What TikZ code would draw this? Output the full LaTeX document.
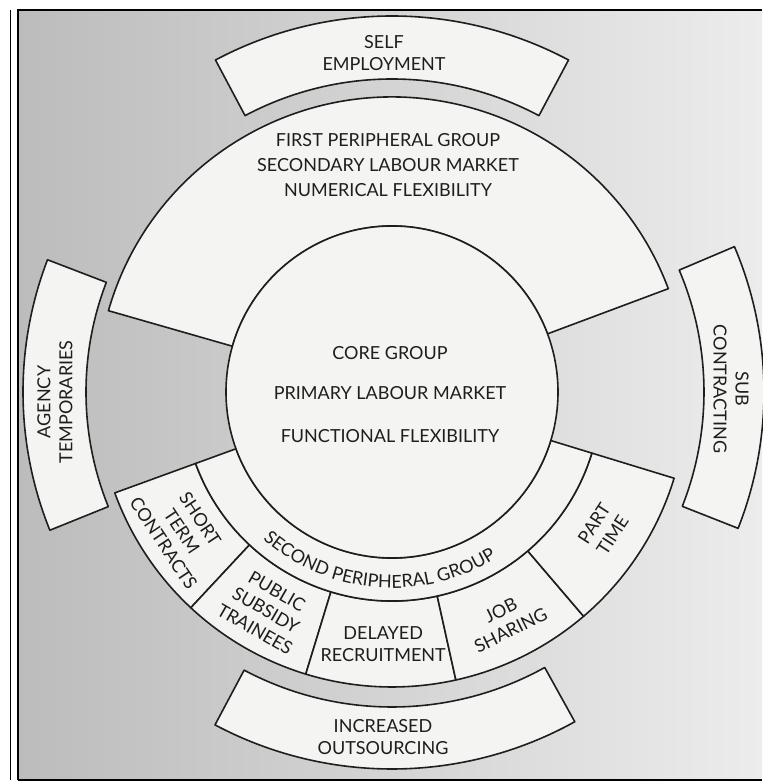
\documentclass[tikz,border=0pt]{standalone}
\usepackage{fontspec}
\setmainfont{Lato}
\usetikzlibrary{decorations.text}
\definecolor{bgL}{RGB}{188,188,188}
\definecolor{bgR}{RGB}{236,236,236}
\definecolor{boxfill}{RGB}{244,244,242}
\definecolor{ink}{RGB}{30,30,30}
\newcommand\annsec[4]{(#1:#3) arc[start angle=#1,end angle=#2,radius=#3] -- (#2:#4) arc[start angle=#2,end angle=#1,radius=#4] -- cycle}
\tikzset{
  shapebox/.style={draw=ink, line width=1.6pt, fill=boxfill, line join=round},
  lbl/.style={text=ink, font=\fontsize{18}{22}\selectfont, align=center, inner sep=0pt},
  frameline/.style={draw=black, line width=1.4pt}
}
\begin{document}
\begin{tikzpicture}[x=1pt,y=1pt]
\useasboundingbox (-392,-391) rectangle (370,392);
\fill[white] (-392,-391) rectangle (370,392);
% background
\shade[left color=bgL, right color=bgR] (-374,-388) rectangle (370,382);
\draw[frameline] (-374,-388) -- (-374,382) -- (370,382);
\draw[frameline] (-374,-388) -- (370,-388);
\draw[black, line width=0.8pt] (-382,-388) -- (-382,382);
% outer boxes
\path[shapebox] \annsec{62}{118}{313}{376};
\path[shapebox] \annsec{159}{202}{306}{369};
\path[shapebox] \annsec{-21.5}{23}{312}{372};
\path[shapebox] \annsec{242}{299}{315}{377};
% first peripheral group
\path[shapebox] \annsec{20.5}{164}{166}{295};
% bottom ring segments
\path[shapebox] \annsec{200}{227}{209}{295};
\path[shapebox] \annsec{227}{253}{209}{295};
\path[shapebox] \annsec{253}{282.5}{209}{295};
\path[shapebox] \annsec{282.5}{310.5}{209}{295};
\path[shapebox] \annsec{310.5}{343}{209}{295};
% second peripheral band
\path[shapebox] \annsec{200}{343}{166}{209};
% core
\draw[shapebox] (0,0) circle[radius=166];
% texts
\node[lbl] (self) at (-8,339) {SELF\\EMPLOYMENT};
\node[lbl, rotate=90] (agency) at (-337,-10) {AGENCY\\TEMPORARIES};
\node[lbl, rotate=-90] (sub) at (339,3) {SUB\\CONTRACTING};
\node[lbl] (outs) at (-9,-345) {INCREASED\\OUTSOURCING};
\node[lbl, font=\fontsize{18}{25}\selectfont] (first) at (-4,227) {FIRST PERIPHERAL GROUP\\SECONDARY LABOUR MARKET\\NUMERICAL FLEXIBILITY};
\node[lbl] (core1) at (-2,39) {CORE GROUP};
\node[lbl] (core2) at (-2,-1) {PRIMARY LABOUR MARKET};
\node[lbl] (core3) at (-2,-44) {FUNCTIONAL FLEXIBILITY};
\node[lbl, rotate=-56.5] (stc) at (213.5:252) {SHORT\\TERM\\CONTRACTS};
\node[lbl, rotate=-30] (pst) at (240:252) {PUBLIC\\SUBSIDY\\TRAINEES};
\node[lbl] (dr) at (268:252) {DELAYED\\RECRUITMENT};
\node[lbl, rotate=26.5] (js) at (296.5:255) {JOB\\SHARING};
\node[lbl, rotate=57] (pt) at (327:252) {PART\\TIME};
\path[decorate, decoration={text along path, text align=center,
  text={|\fontsize{18}{22}\selectfont\color{ink}|SECOND PERIPHERAL GROUP}}]
  (215:196) arc[start angle=215, end angle=316, radius=196];
\end{tikzpicture}
\end{document}
